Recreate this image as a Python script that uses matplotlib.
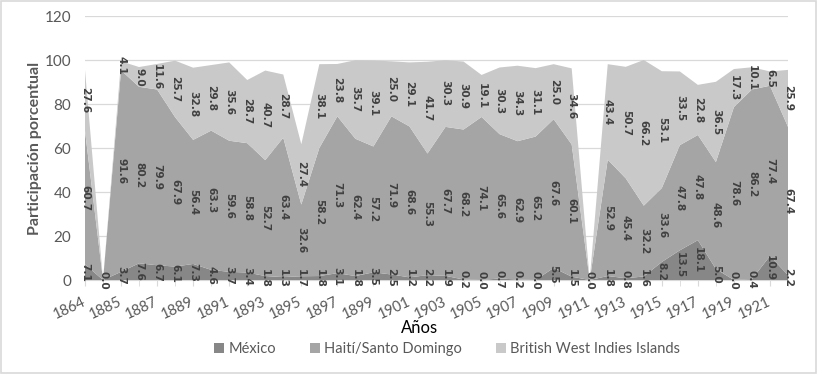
import numpy as np
import matplotlib
matplotlib.use('Agg')
import matplotlib.pyplot as plt
from matplotlib.patches import Patch, Rectangle

years = ['1864', '', '1885', '1886', '1887', '1888', '1889', '1890', '1891', '1892',
         '1893', '1894', '1895', '1896', '1897', '1898', '1899', '1900', '1901', '1902',
         '1903', '1904', '1905', '1906', '1907', '1908', '1909', '1910', '1911', '1912',
         '1913', '1914', '1915', '1916', '1917', '1918', '1919', '1920', '1921', '1922']

mexico = [7.1, 0.0, 3.7, 7.6, 6.7, 6.1, 7.3, 4.6, 3.7, 3.4,
          1.8, 1.3, 1.7, 1.8, 3.1, 1.8, 3.5, 2.5, 1.2, 2.2,
          1.9, 0.2, 0.0, 0.7, 0.2, 0.0, 5.5, 1.5, 0.0, 1.8,
          0.8, 1.6, 8.2, 13.5, 18.1, 5.0, 0.0, 0.4, 10.9, 2.2]

haiti = [60.7, None, 91.6, 80.2, 79.9, 67.9, 56.4, 63.3, 59.6, 58.8,
         52.7, 63.4, 32.6, 58.2, 71.3, 62.4, 57.2, 71.9, 68.6, 55.3,
         67.7, 68.2, 74.1, 65.6, 62.9, 65.2, 67.6, 60.1, None, 52.9,
         45.4, 32.2, 33.6, 47.8, 47.8, 48.6, 78.6, 86.2, 77.4, 67.4]

bwi = [27.6, None, 4.1, 9.0, 11.6, 25.7, 32.8, 29.8, 35.6, 28.7,
       40.7, 28.7, 27.4, 38.1, 23.8, 35.7, 39.1, 25.0, 29.1, 41.7,
       30.3, 30.9, 19.1, 30.3, 34.3, 31.1, 25.0, 34.6, None, 43.4,
       50.7, 66.2, 53.1, 33.5, 22.8, 36.5, 17.3, 10.1, 6.5, 25.9]

series_names = ['México', 'Haití/Santo Domingo', 'British West Indies Islands']
colors = ['#878787', '#a5a5a5', '#c9c9c9']

font = 'Lato'
grey_txt = '#595959'

fig = plt.figure(figsize=(8.18, 3.74), dpi=100)
fig.patches.append(Rectangle((0.001, 0.003), 0.997, 0.994, transform=fig.transFigure,
                             fill=False, edgecolor='#d9d9d9', lw=1.2))
ax = fig.add_axes([85 / 818, 1 - 280 / 374, (788 - 85) / 818, (280 - 16) / 374])

x = np.arange(len(years))
data = [np.array([np.nan if v is None else v for v in s], dtype=float)
        for s in [mexico, haiti, bwi]]
filled = [np.nan_to_num(d) for d in data]

ax.stackplot(x, *filled, colors=colors, lw=0, zorder=2)

# data labels in the middle of each band
base = np.zeros(len(x))
for d, f in zip(data, filled):
    for i in range(len(x)):
        if not np.isnan(d[i]):
            ax.text(x[i], base[i] + f[i] / 2, '%.1f' % d[i], rotation=-90,
                    ha='center', va='center', fontsize=7.6, fontweight='bold',
                    color='#404040', family='DejaVu Sans', zorder=5, clip_on=False)
    base = base + f

ax.set_xlim(0, len(x) - 1)
ax.set_ylim(0, 120)
ax.set_yticks(range(0, 121, 20))
ax.grid(axis='y', color='#d9d9d9', lw=0.9, zorder=0)
ax.set_axisbelow(True)
for s in ['top', 'right', 'left']:
    ax.spines[s].set_visible(False)
ax.spines['bottom'].set_color('#d9d9d9')
ax.spines['bottom'].set_zorder(1)

ax.set_xticks(x[::2])
ax.set_xticklabels([years[i] for i in x[::2]], rotation=25, ha='right', va='center',
                   rotation_mode='anchor', fontsize=10.5, color=grey_txt, family=font)
ax.set_xticks(x, minor=True)
ax.tick_params(axis='x', which='both', length=4, color='#d9d9d9', pad=11)
ax.tick_params(axis='y', length=0, pad=10, labelsize=11, labelcolor=grey_txt)
for lab in ax.get_yticklabels():
    lab.set_family(font)

ax.set_ylabel('Participación porcentual', fontsize=11.5, fontweight='bold',
              color=grey_txt, family=font, labelpad=2)
fig.text(420 / 818, 1 - 328 / 374, 'Años', ha='center', va='center',
         fontsize=12, color='black', family=font)

handles = [Patch(facecolor=c, edgecolor='none') for c in colors]
fig.legend(handles, series_names, loc='center', bbox_to_anchor=(447 / 818, 1 - 349 / 374),
           ncol=3, frameon=False, handlelength=0.7, handleheight=0.7,
           handletextpad=0.3, columnspacing=2.3,
           prop={'family': font, 'size': 10.5}, labelcolor=grey_txt)

fig.savefig('out.png', dpi=100)
